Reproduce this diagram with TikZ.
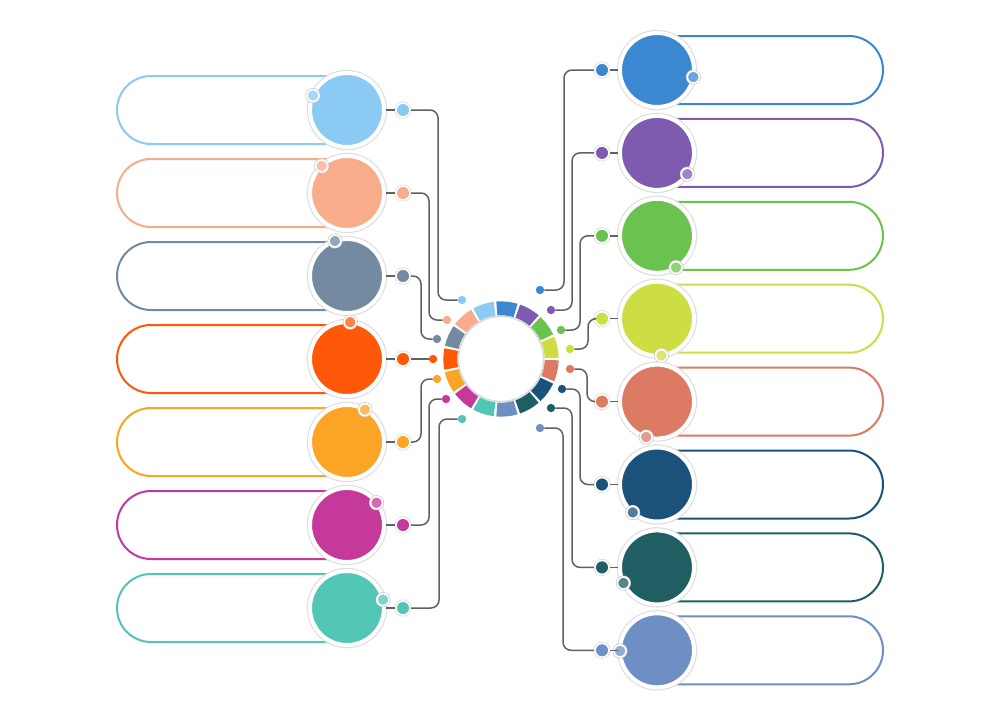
\documentclass[tikz,border=0pt]{standalone}
\usetikzlibrary{calc,positioning}
\definecolor{Sky}{HTML}{8BCBF3}
\definecolor{Peach}{HTML}{F9AC8B}
\definecolor{Slate}{HTML}{738AA1}
\definecolor{Flame}{HTML}{FF5808}
\definecolor{Amber}{HTML}{FCA426}
\definecolor{Berry}{HTML}{C4399A}
\definecolor{Aqua}{HTML}{52C6B6}
\definecolor{Azure}{HTML}{3B88D1}
\definecolor{Violet}{HTML}{7E5BAF}
\definecolor{Leaf}{HTML}{6CC24E}
\definecolor{Lime}{HTML}{CDDE45}
\definecolor{Salmon}{HTML}{DD7A63}
\definecolor{Navy}{HTML}{1A527B}
\definecolor{Pine}{HTML}{1F5E63}
\definecolor{Steel}{HTML}{6E8FC3}
\begin{document}
\begin{tikzpicture}[x=0.03cm,y=-0.03cm,
      wire/.style={draw=black!62,line width=0.045cm,rounded corners=0.24cm},
      pill/.style={draw=#1,line width=0.06cm,rounded corners=1.02cm},
      orb/.style={circle,inner sep=0pt,minimum size=2.22cm,fill=#1,draw=white,line width=0.12cm,
        preaction={draw=black!13,line width=0.19cm}},
      knob/.style={circle,inner sep=0pt,minimum size=0.36cm,fill=#1!75!white,draw=white,line width=0.05cm,
        preaction={draw=black!22,line width=0.09cm}},
      bead/.style={circle,inner sep=0pt,minimum size=0.42cm,fill=#1,draw=white,line width=0.05cm,
        preaction={draw=black!16,line width=0.09cm}},
      endpt/.style={circle,inner sep=0pt,minimum size=0.25cm,fill=#1}]
      \path[fill=white] (0,0) rectangle (1000,720);
      \coordinate (hub) at (501,359);
      \foreach \c [count=\k from 0] in {Lime,Leaf,Violet,Azure,Sky,Peach,Slate,Flame,Amber,Berry,Aqua,Steel,Pine,Navy,Salmon}{
        \pgfmathsetmacro\sa{24*\k+1.3}
        \pgfmathsetmacro\ea{24*\k+22.7}
        \fill[\c] ($(hub)+(\sa:1.73cm)$) arc[start angle=\sa,end angle=\ea,radius=1.73cm]
          -- ($(hub)+(\ea:1.31cm)$) arc[start angle=\ea,end angle=\sa,radius=1.31cm] -- cycle;
      }
      \node[circle,inner sep=0pt,minimum size=2.56cm,fill=white,draw=black!15,line width=0.05cm] (core) at (hub) {};
      \foreach \c/\rx/\ry/\off/\pa [count=\i] in {Sky/462/300/24/157,Peach/447/320/18/133,Slate/437/339/16/109,
          Flame/433/359/0/85,Amber/437/379/16/61,Berry/446/399/17/37,Aqua/462/419/23/13}{
        \pgfmathsetmacro\cy{110+83*(\i-1)}
        \draw[pill=\c] (347,\cy-34) -- (117,\cy-34) -- (117,\cy+34) -- (347,\cy+34);
        \node[orb=\c] (cl\i) at (347,\cy) {};
        \node[knob=\c] (kl\i) at ($(cl\i)+(\pa:1.11cm)$) {};
        \node[bead=\c] (pl\i) at (403,\cy) {};
        \node[endpt=\c] (tl\i) at (\rx,\ry) {};
        \draw[wire] (cl\i.east) -- (pl\i.west);
        \ifnum\i=4
          \draw[wire] (pl\i.east) -- (tl\i.west);
        \else
          \draw[wire] (pl\i.east) -| ($(tl\i)+(-\off,0)$) -- (tl\i.west);
        \fi
      }
      \foreach \c/\rx/\ry/\off/\pa [count=\i] in {Azure/540/290/24/-11,Violet/551/310/21/-35,Leaf/561/330/19/-59,
          Lime/570/349/18/-83,Salmon/570/369/17/-107,Navy/562/389/18/-131,Pine/551/408/21/-155,Steel/540/428/23/-179}{
        \pgfmathsetmacro\cy{70+82.9*(\i-1)}
        \draw[pill=\c] (657,\cy-34) -- (883,\cy-34) -- (883,\cy+34) -- (657,\cy+34);
        \node[orb=\c] (cr\i) at (657,\cy) {};
        \node[knob=\c] (kr\i) at ($(cr\i)+(\pa:1.11cm)$) {};
        \node[bead=\c] (pr\i) at (602,\cy) {};
        \node[endpt=\c] (tr\i) at (\rx,\ry) {};
        \draw[wire] (cr\i.west) -- (pr\i.east);
        \draw[wire] (pr\i.west) -| ($(tr\i)+(\off,0)$) -- (tr\i.east);
      }
    \end{tikzpicture}
\end{document}
